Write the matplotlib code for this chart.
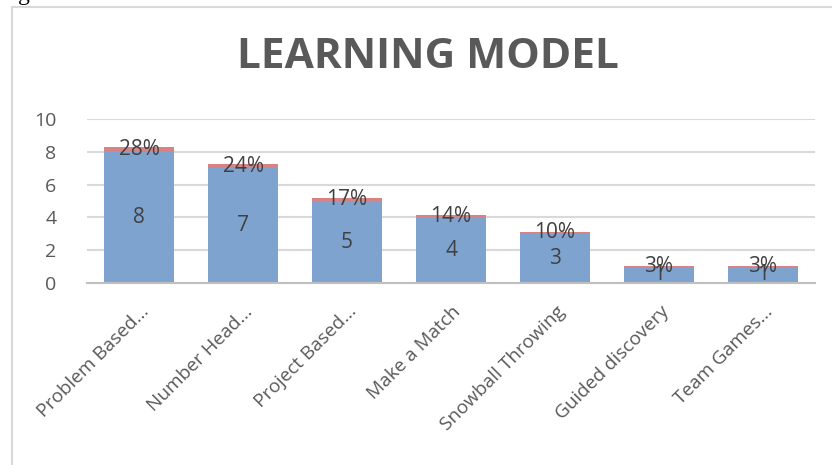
import matplotlib
matplotlib.use("Agg")
import matplotlib.pyplot as plt
from matplotlib.patches import Rectangle

categories = ["Problem Based...", "Number Head...", "Project Based...", "Make a Match",
              "Snowball Throwing", "Guided discovery", "Team Games..."]
counts = [8, 7, 5, 4, 3, 1, 1]
percents = [0.28, 0.24, 0.17, 0.14, 0.10, 0.03, 0.03]
pct_labels = ["28%", "24%", "17%", "14%", "10%", "3%", "3%"]
yticks = [0, 2, 4, 6, 8, 10]

plt.rcParams['font.family'] = ['Open Sans', 'DejaVu Sans']

W, H = 832, 465
fig = plt.figure(figsize=(W / 100, H / 100), dpi=100)

# chart border (cropped at right/bottom)
fig.patches.append(Rectangle((12 / W, -0.1), 1.1, 1 - 7 / H + 0.1, transform=fig.transFigure,
                             fill=False, edgecolor='#d9d9d9', linewidth=1.5))
# cropped text fragment at top
fig.text(18 / W, 1.0, "g educators.", family='Liberation Serif', fontsize=17,
         color='black', ha='left', va='baseline')

ax = fig.add_axes([87 / W, 1 - 283 / H, (815 - 87) / W, (283 - 119) / H])
x = list(range(len(categories)))
b1 = ax.bar(x, counts, width=0.67, color='#7EA3CF', zorder=3)
b2 = ax.bar(x, percents, bottom=counts, width=0.67, color='#D98283', zorder=3)

for xi, c, p, pl in zip(x, counts, percents, pct_labels):
    ax.text(xi, c / 2, str(c), ha='center', va='center', fontsize=15, color='#404040', zorder=4)
    ax.text(xi, c + p / 2, pl, ha='center', va='center', fontsize=15, color='#404040', zorder=4)

ax.set_xlim(-0.5, len(categories) - 0.5)
ax.set_ylim(0, 10)
ax.set_yticks(yticks)
ax.set_yticklabels([str(v) for v in yticks], fontsize=14, color='#595959')
ax.tick_params(axis='y', length=0, pad=22)
ax.set_xticks(x)
ax.set_xticklabels([])
ax.tick_params(axis='x', length=0)
for xi, lab in zip(x, categories):
    ax.annotate(lab, xy=(xi, 0), xycoords='data', xytext=(0.5, -14), textcoords='offset points',
                rotation=45, ha='right', va='top', rotation_mode='anchor',
                fontsize=13.7, color='#595959', annotation_clip=False)

ax.grid(axis='y', color='#d9d9d9', linewidth=1.5, zorder=0)
for s in ['top', 'right', 'left']:
    ax.spines[s].set_visible(False)
ax.spines['bottom'].set_color('#bfbfbf')
ax.spines['bottom'].set_linewidth(1.5)
ax.spines['bottom'].set_zorder(5)

fig.text(428 / W, 1 - 58 / H, "LEARNING MODEL", ha='center', va='center', fontsize=30.5,
         fontweight='bold', color='#595959')

fig.savefig("out.png", dpi=100)
